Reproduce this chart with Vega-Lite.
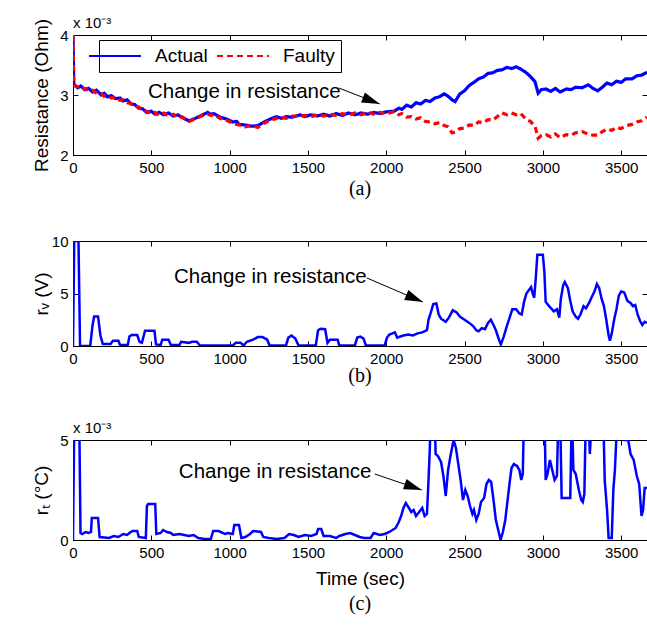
{
  "$schema": "https://vega.github.io/schema/vega-lite/v6.json",
  "background": "white",
  "padding": {"left": 31, "top": 15, "right": 0, "bottom": 0},
  "spacing": 33,
  "config": {
    "font": "Liberation Sans",
    "view": {"stroke": "#000000", "strokeWidth": 1},
    "axis": {
      "grid": false, "domainColor": "#000000", "tickColor": "#000000", "labelColor": "#000000", "titleColor": "#000000",
      "labelFont": "Liberation Sans", "titleFont": "Liberation Sans", "labelFontSize": 15, "titleFontSize": 19,
      "titleFontWeight": "normal", "tickSize": -5, "labelPadding": 10, "domainWidth": 1, "tickWidth": 1, "format": "d", "labelFlush": false
    }
  },
  "datasets": {
    "resistance": [
      {"t":0,"v":4.0,"series":"Actual"},{"t":5,"v":3.18,"series":"Actual"},{"t":30,"v":3.12,"series":"Actual"},{"t":50,"v":3.15,"series":"Actual"},{"t":75,"v":3.09,"series":"Actual"},{"t":100,"v":3.11,"series":"Actual"},{"t":125,"v":3.05,"series":"Actual"},{"t":150,"v":3.08,"series":"Actual"},{"t":180,"v":3.0,"series":"Actual"},{"t":200,"v":3.03,"series":"Actual"},{"t":220,"v":2.97,"series":"Actual"},{"t":245,"v":2.99,"series":"Actual"},{"t":270,"v":2.94,"series":"Actual"},{"t":300,"v":2.95,"series":"Actual"},{"t":320,"v":2.9,"series":"Actual"},{"t":345,"v":2.92,"series":"Actual"},{"t":370,"v":2.85,"series":"Actual"},{"t":395,"v":2.84,"series":"Actual"},{"t":420,"v":2.78,"series":"Actual"},{"t":445,"v":2.77,"series":"Actual"},{"t":470,"v":2.71,"series":"Actual"},{"t":500,"v":2.73,"series":"Actual"},{"t":525,"v":2.68,"series":"Actual"},{"t":550,"v":2.71,"series":"Actual"},{"t":580,"v":2.67,"series":"Actual"},{"t":610,"v":2.7,"series":"Actual"},{"t":640,"v":2.65,"series":"Actual"},{"t":670,"v":2.67,"series":"Actual"},{"t":700,"v":2.62,"series":"Actual"},{"t":740,"v":2.57,"series":"Actual"},{"t":780,"v":2.61,"series":"Actual"},{"t":820,"v":2.66,"series":"Actual"},{"t":860,"v":2.71,"series":"Actual"},{"t":880,"v":2.68,"series":"Actual"},{"t":900,"v":2.69,"series":"Actual"},{"t":940,"v":2.63,"series":"Actual"},{"t":980,"v":2.6,"series":"Actual"},{"t":1020,"v":2.55,"series":"Actual"},{"t":1045,"v":2.56,"series":"Actual"},{"t":1060,"v":2.51,"series":"Actual"},{"t":1100,"v":2.5,"series":"Actual"},{"t":1140,"v":2.48,"series":"Actual"},{"t":1180,"v":2.49,"series":"Actual"},{"t":1220,"v":2.55,"series":"Actual"},{"t":1260,"v":2.6,"series":"Actual"},{"t":1300,"v":2.64,"series":"Actual"},{"t":1330,"v":2.61,"series":"Actual"},{"t":1360,"v":2.64,"series":"Actual"},{"t":1400,"v":2.63,"series":"Actual"},{"t":1450,"v":2.67,"series":"Actual"},{"t":1480,"v":2.64,"series":"Actual"},{"t":1520,"v":2.67,"series":"Actual"},{"t":1560,"v":2.65,"series":"Actual"},{"t":1600,"v":2.68,"series":"Actual"},{"t":1640,"v":2.65,"series":"Actual"},{"t":1680,"v":2.69,"series":"Actual"},{"t":1720,"v":2.66,"series":"Actual"},{"t":1760,"v":2.7,"series":"Actual"},{"t":1800,"v":2.67,"series":"Actual"},{"t":1840,"v":2.7,"series":"Actual"},{"t":1880,"v":2.68,"series":"Actual"},{"t":1920,"v":2.71,"series":"Actual"},{"t":1960,"v":2.69,"series":"Actual"},{"t":2000,"v":2.72,"series":"Actual"},{"t":2050,"v":2.73,"series":"Actual"},{"t":2080,"v":2.78,"series":"Actual"},{"t":2100,"v":2.76,"series":"Actual"},{"t":2130,"v":2.83,"series":"Actual"},{"t":2160,"v":2.8,"series":"Actual"},{"t":2190,"v":2.87,"series":"Actual"},{"t":2220,"v":2.85,"series":"Actual"},{"t":2250,"v":2.91,"series":"Actual"},{"t":2280,"v":2.89,"series":"Actual"},{"t":2310,"v":2.95,"series":"Actual"},{"t":2340,"v":2.97,"series":"Actual"},{"t":2370,"v":3.02,"series":"Actual"},{"t":2395,"v":2.98,"series":"Actual"},{"t":2420,"v":2.92,"series":"Actual"},{"t":2440,"v":2.89,"series":"Actual"},{"t":2470,"v":3.02,"series":"Actual"},{"t":2500,"v":3.07,"series":"Actual"},{"t":2530,"v":3.16,"series":"Actual"},{"t":2560,"v":3.21,"series":"Actual"},{"t":2590,"v":3.27,"series":"Actual"},{"t":2620,"v":3.3,"series":"Actual"},{"t":2650,"v":3.36,"series":"Actual"},{"t":2680,"v":3.37,"series":"Actual"},{"t":2710,"v":3.41,"series":"Actual"},{"t":2740,"v":3.42,"series":"Actual"},{"t":2770,"v":3.46,"series":"Actual"},{"t":2800,"v":3.44,"series":"Actual"},{"t":2830,"v":3.47,"series":"Actual"},{"t":2860,"v":3.43,"series":"Actual"},{"t":2890,"v":3.38,"series":"Actual"},{"t":2920,"v":3.31,"series":"Actual"},{"t":2950,"v":3.22,"series":"Actual"},{"t":2970,"v":3.03,"series":"Actual"},{"t":2990,"v":3.09,"series":"Actual"},{"t":3020,"v":3.1,"series":"Actual"},{"t":3050,"v":3.06,"series":"Actual"},{"t":3080,"v":3.11,"series":"Actual"},{"t":3110,"v":3.05,"series":"Actual"},{"t":3150,"v":3.1,"series":"Actual"},{"t":3180,"v":3.09,"series":"Actual"},{"t":3210,"v":3.13,"series":"Actual"},{"t":3250,"v":3.12,"series":"Actual"},{"t":3290,"v":3.17,"series":"Actual"},{"t":3320,"v":3.11,"series":"Actual"},{"t":3350,"v":3.07,"series":"Actual"},{"t":3380,"v":3.13,"series":"Actual"},{"t":3410,"v":3.2,"series":"Actual"},{"t":3440,"v":3.17,"series":"Actual"},{"t":3470,"v":3.23,"series":"Actual"},{"t":3500,"v":3.21,"series":"Actual"},{"t":3530,"v":3.27,"series":"Actual"},{"t":3570,"v":3.27,"series":"Actual"},{"t":3600,"v":3.32,"series":"Actual"},{"t":3630,"v":3.33,"series":"Actual"},{"t":3665,"v":3.38,"series":"Actual"},
      {"t":0,"v":4.0,"series":"Faulty"},{"t":5,"v":3.16,"series":"Faulty"},{"t":30,"v":3.14,"series":"Faulty"},{"t":50,"v":3.1,"series":"Faulty"},{"t":75,"v":3.11,"series":"Faulty"},{"t":100,"v":3.07,"series":"Faulty"},{"t":125,"v":3.08,"series":"Faulty"},{"t":150,"v":3.03,"series":"Faulty"},{"t":180,"v":3.02,"series":"Faulty"},{"t":200,"v":2.98,"series":"Faulty"},{"t":220,"v":2.99,"series":"Faulty"},{"t":245,"v":2.95,"series":"Faulty"},{"t":270,"v":2.96,"series":"Faulty"},{"t":300,"v":2.91,"series":"Faulty"},{"t":320,"v":2.92,"series":"Faulty"},{"t":345,"v":2.87,"series":"Faulty"},{"t":370,"v":2.86,"series":"Faulty"},{"t":395,"v":2.81,"series":"Faulty"},{"t":420,"v":2.8,"series":"Faulty"},{"t":445,"v":2.74,"series":"Faulty"},{"t":470,"v":2.73,"series":"Faulty"},{"t":500,"v":2.69,"series":"Faulty"},{"t":525,"v":2.71,"series":"Faulty"},{"t":550,"v":2.66,"series":"Faulty"},{"t":580,"v":2.7,"series":"Faulty"},{"t":610,"v":2.65,"series":"Faulty"},{"t":640,"v":2.68,"series":"Faulty"},{"t":670,"v":2.63,"series":"Faulty"},{"t":700,"v":2.63,"series":"Faulty"},{"t":740,"v":2.56,"series":"Faulty"},{"t":780,"v":2.6,"series":"Faulty"},{"t":820,"v":2.65,"series":"Faulty"},{"t":860,"v":2.68,"series":"Faulty"},{"t":880,"v":2.66,"series":"Faulty"},{"t":900,"v":2.67,"series":"Faulty"},{"t":940,"v":2.61,"series":"Faulty"},{"t":980,"v":2.58,"series":"Faulty"},{"t":1020,"v":2.53,"series":"Faulty"},{"t":1045,"v":2.51,"series":"Faulty"},{"t":1060,"v":2.5,"series":"Faulty"},{"t":1100,"v":2.47,"series":"Faulty"},{"t":1140,"v":2.49,"series":"Faulty"},{"t":1180,"v":2.46,"series":"Faulty"},{"t":1220,"v":2.53,"series":"Faulty"},{"t":1260,"v":2.58,"series":"Faulty"},{"t":1300,"v":2.61,"series":"Faulty"},{"t":1330,"v":2.63,"series":"Faulty"},{"t":1360,"v":2.61,"series":"Faulty"},{"t":1400,"v":2.65,"series":"Faulty"},{"t":1450,"v":2.64,"series":"Faulty"},{"t":1480,"v":2.66,"series":"Faulty"},{"t":1520,"v":2.64,"series":"Faulty"},{"t":1560,"v":2.67,"series":"Faulty"},{"t":1600,"v":2.65,"series":"Faulty"},{"t":1640,"v":2.68,"series":"Faulty"},{"t":1680,"v":2.66,"series":"Faulty"},{"t":1720,"v":2.69,"series":"Faulty"},{"t":1760,"v":2.67,"series":"Faulty"},{"t":1800,"v":2.7,"series":"Faulty"},{"t":1840,"v":2.67,"series":"Faulty"},{"t":1880,"v":2.71,"series":"Faulty"},{"t":1920,"v":2.68,"series":"Faulty"},{"t":1960,"v":2.71,"series":"Faulty"},{"t":2000,"v":2.69,"series":"Faulty"},{"t":2050,"v":2.72,"series":"Faulty"},{"t":2080,"v":2.67,"series":"Faulty"},{"t":2100,"v":2.69,"series":"Faulty"},{"t":2130,"v":2.63,"series":"Faulty"},{"t":2160,"v":2.64,"series":"Faulty"},{"t":2190,"v":2.6,"series":"Faulty"},{"t":2220,"v":2.62,"series":"Faulty"},{"t":2250,"v":2.56,"series":"Faulty"},{"t":2280,"v":2.55,"series":"Faulty"},{"t":2310,"v":2.52,"series":"Faulty"},{"t":2340,"v":2.54,"series":"Faulty"},{"t":2370,"v":2.49,"series":"Faulty"},{"t":2395,"v":2.47,"series":"Faulty"},{"t":2420,"v":2.37,"series":"Faulty"},{"t":2440,"v":2.38,"series":"Faulty"},{"t":2470,"v":2.44,"series":"Faulty"},{"t":2500,"v":2.45,"series":"Faulty"},{"t":2530,"v":2.5,"series":"Faulty"},{"t":2560,"v":2.49,"series":"Faulty"},{"t":2590,"v":2.55,"series":"Faulty"},{"t":2620,"v":2.54,"series":"Faulty"},{"t":2650,"v":2.59,"series":"Faulty"},{"t":2680,"v":2.58,"series":"Faulty"},{"t":2710,"v":2.64,"series":"Faulty"},{"t":2740,"v":2.7,"series":"Faulty"},{"t":2770,"v":2.67,"series":"Faulty"},{"t":2800,"v":2.7,"series":"Faulty"},{"t":2830,"v":2.67,"series":"Faulty"},{"t":2860,"v":2.69,"series":"Faulty"},{"t":2890,"v":2.6,"series":"Faulty"},{"t":2920,"v":2.56,"series":"Faulty"},{"t":2950,"v":2.48,"series":"Faulty"},{"t":2970,"v":2.28,"series":"Faulty"},{"t":2990,"v":2.32,"series":"Faulty"},{"t":3020,"v":2.34,"series":"Faulty"},{"t":3050,"v":2.3,"series":"Faulty"},{"t":3080,"v":2.35,"series":"Faulty"},{"t":3110,"v":2.29,"series":"Faulty"},{"t":3150,"v":2.34,"series":"Faulty"},{"t":3180,"v":2.33,"series":"Faulty"},{"t":3210,"v":2.37,"series":"Faulty"},{"t":3250,"v":2.39,"series":"Faulty"},{"t":3290,"v":2.35,"series":"Faulty"},{"t":3320,"v":2.33,"series":"Faulty"},{"t":3350,"v":2.33,"series":"Faulty"},{"t":3380,"v":2.39,"series":"Faulty"},{"t":3410,"v":2.43,"series":"Faulty"},{"t":3440,"v":2.41,"series":"Faulty"},{"t":3470,"v":2.46,"series":"Faulty"},{"t":3500,"v":2.44,"series":"Faulty"},{"t":3530,"v":2.49,"series":"Faulty"},{"t":3570,"v":2.51,"series":"Faulty"},{"t":3600,"v":2.55,"series":"Faulty"},{"t":3630,"v":2.57,"series":"Faulty"},{"t":3665,"v":2.63,"series":"Faulty"}
    ],
    "rv": [
      {"t":0,"v":0},{"t":8,"v":10},{"t":35,"v":10},{"t":45,"v":0},{"t":110,"v":0},{"t":125,"v":2.0},{"t":135,"v":2.8},{"t":160,"v":2.8},{"t":175,"v":1.0},{"t":190,"v":0.2},{"t":240,"v":0.2},{"t":255,"v":0.5},{"t":290,"v":0.5},{"t":300,"v":0.1},{"t":350,"v":0.1},{"t":360,"v":0.9},{"t":375,"v":1.05},{"t":410,"v":1.05},{"t":425,"v":0.4},{"t":440,"v":0.3},{"t":460,"v":1.45},{"t":520,"v":1.45},{"t":530,"v":0.15},{"t":560,"v":0.1},{"t":570,"v":0.6},{"t":610,"v":0.6},{"t":625,"v":0.1},{"t":680,"v":0.1},{"t":690,"v":0.4},{"t":740,"v":0.3},{"t":760,"v":0.4},{"t":790,"v":0.4},{"t":810,"v":0.05},{"t":1020,"v":0.05},{"t":1040,"v":0.3},{"t":1070,"v":0.3},{"t":1090,"v":0.05},{"t":1110,"v":0.4},{"t":1150,"v":0.6},{"t":1180,"v":0.85},{"t":1210,"v":0.85},{"t":1240,"v":0.6},{"t":1255,"v":0.05},{"t":1360,"v":0.05},{"t":1375,"v":0.8},{"t":1395,"v":1.0},{"t":1420,"v":0.7},{"t":1440,"v":0.05},{"t":1550,"v":0.05},{"t":1565,"v":1.5},{"t":1580,"v":1.65},{"t":1610,"v":1.6},{"t":1625,"v":0.3},{"t":1640,"v":0.6},{"t":1690,"v":0.6},{"t":1700,"v":0.05},{"t":1800,"v":0.05},{"t":1815,"v":0.8},{"t":1835,"v":0.9},{"t":1855,"v":0.7},{"t":1870,"v":0.05},{"t":1990,"v":0.05},{"t":2005,"v":0.8},{"t":2020,"v":1.1},{"t":2040,"v":1.2},{"t":2055,"v":1.3},{"t":2070,"v":0.8},{"t":2090,"v":0.9},{"t":2110,"v":1.0},{"t":2140,"v":1.1},{"t":2170,"v":1.0},{"t":2200,"v":1.2},{"t":2230,"v":1.3},{"t":2260,"v":1.5},{"t":2270,"v":2.5},{"t":2285,"v":3.2},{"t":2300,"v":4.0},{"t":2320,"v":4.05},{"t":2335,"v":3.0},{"t":2350,"v":2.6},{"t":2380,"v":2.3},{"t":2400,"v":2.7},{"t":2425,"v":3.4},{"t":2450,"v":3.2},{"t":2470,"v":2.8},{"t":2500,"v":2.5},{"t":2530,"v":2.2},{"t":2555,"v":1.9},{"t":2575,"v":1.5},{"t":2590,"v":1.4},{"t":2610,"v":1.7},{"t":2630,"v":1.6},{"t":2650,"v":2.2},{"t":2668,"v":2.5},{"t":2685,"v":2.0},{"t":2700,"v":1.5},{"t":2720,"v":0.6},{"t":2732,"v":0.15},{"t":2750,"v":0.9},{"t":2770,"v":1.9},{"t":2790,"v":2.8},{"t":2805,"v":3.5},{"t":2830,"v":3.5},{"t":2850,"v":3.1},{"t":2865,"v":3.0},{"t":2880,"v":4.2},{"t":2895,"v":5.0},{"t":2910,"v":5.3},{"t":2925,"v":5.6},{"t":2935,"v":5.0},{"t":2945,"v":4.6},{"t":2955,"v":6.5},{"t":2965,"v":8.7},{"t":3000,"v":8.7},{"t":3010,"v":7.0},{"t":3018,"v":4.2},{"t":3040,"v":3.8},{"t":3070,"v":3.3},{"t":3090,"v":3.5},{"t":3105,"v":2.7},{"t":3115,"v":4.5},{"t":3130,"v":5.8},{"t":3140,"v":6.1},{"t":3160,"v":5.5},{"t":3175,"v":4.3},{"t":3190,"v":3.3},{"t":3210,"v":2.8},{"t":3225,"v":2.6},{"t":3240,"v":3.0},{"t":3260,"v":3.8},{"t":3275,"v":3.6},{"t":3295,"v":4.1},{"t":3310,"v":4.6},{"t":3330,"v":5.2},{"t":3345,"v":5.9},{"t":3360,"v":5.5},{"t":3375,"v":4.5},{"t":3390,"v":3.8},{"t":3405,"v":2.5},{"t":3420,"v":1.0},{"t":3428,"v":0.5},{"t":3440,"v":1.2},{"t":3455,"v":2.5},{"t":3470,"v":3.5},{"t":3485,"v":4.8},{"t":3500,"v":5.2},{"t":3520,"v":5.1},{"t":3540,"v":4.3},{"t":3560,"v":4.1},{"t":3575,"v":3.8},{"t":3590,"v":3.9},{"t":3605,"v":3.0},{"t":3620,"v":2.4},{"t":3635,"v":2.0},{"t":3650,"v":2.3},{"t":3665,"v":2.2}
    ],
    "rt": [
      {"t":0,"v":0},{"t":8,"v":6},{"t":40,"v":6},{"t":48,"v":0.35},{"t":60,"v":0.3},{"t":80,"v":0.4},{"t":100,"v":0.35},{"t":115,"v":0.4},{"t":120,"v":1.1},{"t":160,"v":1.1},{"t":170,"v":0.15},{"t":230,"v":0.1},{"t":260,"v":0.2},{"t":290,"v":0.15},{"t":320,"v":0.3},{"t":345,"v":0.25},{"t":360,"v":0.35},{"t":380,"v":0.45},{"t":410,"v":0.45},{"t":420,"v":0.15},{"t":465,"v":0.1},{"t":472,"v":1.7},{"t":480,"v":1.8},{"t":525,"v":1.8},{"t":532,"v":0.3},{"t":560,"v":0.35},{"t":575,"v":0.5},{"t":600,"v":0.4},{"t":625,"v":0.35},{"t":640,"v":0.25},{"t":680,"v":0.3},{"t":710,"v":0.25},{"t":740,"v":0.2},{"t":770,"v":0.25},{"t":800,"v":0.1},{"t":840,"v":0.05},{"t":880,"v":0.05},{"t":895,"v":0.45},{"t":930,"v":0.45},{"t":970,"v":0.3},{"t":990,"v":0.35},{"t":1020,"v":0.3},{"t":1030,"v":0.75},{"t":1060,"v":0.75},{"t":1075,"v":0.1},{"t":1100,"v":0.15},{"t":1130,"v":0.3},{"t":1150,"v":0.45},{"t":1200,"v":0.4},{"t":1215,"v":0.15},{"t":1250,"v":0.1},{"t":1300,"v":0.05},{"t":1350,"v":0.1},{"t":1380,"v":0.3},{"t":1410,"v":0.25},{"t":1440,"v":0.15},{"t":1480,"v":0.25},{"t":1520,"v":0.2},{"t":1555,"v":0.3},{"t":1565,"v":0.55},{"t":1585,"v":0.55},{"t":1600,"v":0.2},{"t":1640,"v":0.2},{"t":1680,"v":0.1},{"t":1700,"v":0.2},{"t":1740,"v":0.3},{"t":1770,"v":0.35},{"t":1800,"v":0.25},{"t":1830,"v":0.15},{"t":1860,"v":0.1},{"t":1900,"v":0.1},{"t":1920,"v":0.35},{"t":1960,"v":0.25},{"t":1990,"v":0.3},{"t":2020,"v":0.4},{"t":2040,"v":0.5},{"t":2060,"v":0.6},{"t":2080,"v":0.9},{"t":2095,"v":1.2},{"t":2110,"v":1.6},{"t":2125,"v":1.85},{"t":2145,"v":1.6},{"t":2160,"v":1.4},{"t":2175,"v":1.5},{"t":2190,"v":1.2},{"t":2210,"v":1.4},{"t":2230,"v":1.6},{"t":2245,"v":1.2},{"t":2260,"v":1.3},{"t":2270,"v":3.0},{"t":2278,"v":4.5},{"t":2285,"v":6.5},{"t":2310,"v":6.5},{"t":2315,"v":4.3},{"t":2330,"v":4.2},{"t":2350,"v":3.9},{"t":2365,"v":3.2},{"t":2380,"v":2.2},{"t":2395,"v":3.5},{"t":2410,"v":4.2},{"t":2430,"v":5.0},{"t":2445,"v":4.6},{"t":2460,"v":3.8},{"t":2475,"v":3.0},{"t":2490,"v":2.0},{"t":2505,"v":2.5},{"t":2520,"v":2.2},{"t":2535,"v":1.7},{"t":2550,"v":1.3},{"t":2560,"v":1.5},{"t":2575,"v":1.0},{"t":2590,"v":1.3},{"t":2605,"v":1.9},{"t":2625,"v":2.1},{"t":2640,"v":2.8},{"t":2655,"v":3.0},{"t":2670,"v":2.9},{"t":2685,"v":2.0},{"t":2700,"v":1.0},{"t":2715,"v":0.5},{"t":2730,"v":0.0},{"t":2745,"v":0.4},{"t":2760,"v":1.0},{"t":2775,"v":2.0},{"t":2790,"v":3.0},{"t":2800,"v":3.6},{"t":2815,"v":3.8},{"t":2835,"v":3.7},{"t":2850,"v":3.5},{"t":2862,"v":3.0},{"t":2872,"v":3.3},{"t":2880,"v":6.5},{"t":3010,"v":6.5},{"t":3018,"v":3.0},{"t":3030,"v":3.3},{"t":3045,"v":4.0},{"t":3060,"v":3.5},{"t":3075,"v":3.0},{"t":3090,"v":3.2},{"t":3100,"v":6.5},{"t":3110,"v":6.5},{"t":3120,"v":2.1},{"t":3175,"v":2.1},{"t":3185,"v":6.5},{"t":3195,"v":3.5},{"t":3210,"v":3.3},{"t":3230,"v":2.5},{"t":3245,"v":2.0},{"t":3255,"v":1.9},{"t":3265,"v":2.3},{"t":3275,"v":6.5},{"t":3290,"v":6.5},{"t":3300,"v":4.3},{"t":3315,"v":6.5},{"t":3385,"v":6.5},{"t":3395,"v":3.0},{"t":3410,"v":1.5},{"t":3420,"v":0.1},{"t":3440,"v":0.1},{"t":3450,"v":2.5},{"t":3460,"v":3.5},{"t":3470,"v":5.2},{"t":3490,"v":6.5},{"t":3520,"v":5.0},{"t":3545,"v":5.0},{"t":3560,"v":4.3},{"t":3580,"v":4.0},{"t":3600,"v":3.2},{"t":3615,"v":2.8},{"t":3630,"v":1.2},{"t":3640,"v":1.5},{"t":3650,"v":2.6},{"t":3665,"v":2.6}
    ],
    "noteA": [{"tx":479,"ty":3.05,"label":"Change in resistance","x1":1697,"y1":3.117,"x2":1959,"y2":2.85,"ang":21}],
    "noteB": [{"tx":645,"ty":6.57,"label":"Change in resistance","x1":1876,"y1":6.48,"x2":2234,"y2":4.19,"ang":23}],
    "noteC": [{"tx":676,"ty":3.4,"label":"Change in resistance","x1":1927,"y1":3.3,"x2":2227,"y2":2.5,"ang":19}]
  },
  "vconcat": [
    {
      "width": 574, "height": 120,
      "title": {"text": "(a)", "orient": "bottom", "font": "Liberation Serif", "fontSize": 20, "fontWeight": "normal", "color": "#000000", "offset": 4, "anchor": "middle"},
      "resolve": {"axis": {"x": "independent", "y": "independent"}},
      "layer": [
        {
          "data": {"name": "resistance"},
          "mark": {"type": "line", "strokeWidth": 3.2, "clip": true},
          "encoding": {
            "x": {"field": "t", "type": "quantitative", "scale": {"domain": [0, 3665], "nice": false}, "axis": {"values": [0,500,1000,1500,2000,2500,3000,3500], "title": null}},
            "y": {"field": "v", "type": "quantitative", "scale": {"domain": [2, 4], "nice": false}, "axis": {"values": [2,3,4], "title": "Resistance (Ohm)", "minExtent": 18, "maxExtent": 18, "titlePadding": 4}},
            "color": {"field": "series", "type": "nominal", "scale": {"domain": ["Actual", "Faulty"], "range": ["#0000ff", "#ff0000"]},
              "legend": {"orient": "none", "legendX": 26, "legendY": 5, "direction": "horizontal", "title": null, "symbolType": "M-3,0H3", "symbolSize": 300, "symbolStrokeWidth": 2.2, "labelFontSize": 19, "labelFont": "Liberation Sans", "labelColor": "#000000", "strokeColor": "#000000", "fillColor": "#ffffff", "padding": 6, "columnPadding": 4, "labelOffset": 30}},
            "strokeDash": {"field": "series", "type": "nominal", "scale": {"domain": ["Actual", "Faulty"], "range": [[1, 0], [6, 4]]}}
          }
        },
        {
          "data": {"name": "noteA"},
          "mark": {"type": "text", "align": "left", "baseline": "middle", "fontSize": 20.5, "font": "Liberation Sans", "color": "#000000"},
          "encoding": {
            "x": {"field": "tx", "type": "quantitative", "axis": {"orient": "top", "labels": false, "title": null, "values": [0,500,1000,1500,2000,2500,3000,3500], "domain": false}},
            "y": {"field": "ty", "type": "quantitative", "axis": {"orient": "right", "labels": false, "title": null, "values": [2,3,4], "domain": false}},
            "text": {"field": "label"}
          }
        },
        {
          "data": {"name": "noteA"},
          "mark": {"type": "rule", "color": "#000000", "strokeWidth": 1},
          "encoding": {
            "x": {"field": "x1", "type": "quantitative", "axis": null}, "y": {"field": "y1", "type": "quantitative", "axis": null},
            "x2": {"field": "x2"}, "y2": {"field": "y2"}
          }
        },
        {
          "data": {"name": "noteA"},
          "mark": {"type": "point", "shape": "M0,0L-2,-0.6L-2,0.6Z", "filled": true, "color": "#000000", "opacity": 1, "size": 324},
          "encoding": {
            "x": {"field": "x2", "type": "quantitative", "axis": null}, "y": {"field": "y2", "type": "quantitative", "axis": null},
            "angle": {"field": "ang", "type": "quantitative", "scale": null}
          }
        },
        {
          "data": {"values": [{"label": "x 10⁻³"}]},
          "mark": {"type": "text", "align": "left", "baseline": "bottom", "fontSize": 15, "font": "Liberation Sans", "color": "#000000", "dy": -4},
          "encoding": {
            "x": {"datum": 0, "axis": null}, "y": {"datum": 4, "axis": null}, "text": {"field": "label"}
          }
        }
      ]
    },
    {
      "width": 574, "height": 105,
      "title": {"text": "(b)", "orient": "bottom", "font": "Liberation Serif", "fontSize": 20, "fontWeight": "normal", "color": "#000000", "offset": 0, "anchor": "middle"},
      "resolve": {"axis": {"x": "independent", "y": "independent"}},
      "layer": [
        {
          "data": {"name": "rv"},
          "mark": {"type": "line", "strokeWidth": 2.5, "color": "#0000ff", "clip": true},
          "encoding": {
            "x": {"field": "t", "type": "quantitative", "scale": {"domain": [0, 3665], "nice": false}, "axis": {"values": [0,500,1000,1500,2000,2500,3000,3500], "title": null}},
            "y": {"field": "v", "type": "quantitative", "scale": {"domain": [0, 10], "nice": false}, "axis": {"values": [0,5,10], "title": "rᵥ (V)", "minExtent": 18, "maxExtent": 18, "titlePadding": 4}}
          }
        },
        {
          "mark": {"type": "rule", "color": "#ff0000", "strokeWidth": 2.5, "strokeDash": [9, 5]},
          "encoding": {"y": {"datum": 3.2, "axis": null}}
        },
        {
          "data": {"name": "noteB"},
          "mark": {"type": "text", "align": "left", "baseline": "middle", "fontSize": 20.5, "font": "Liberation Sans", "color": "#000000"},
          "encoding": {
            "x": {"field": "tx", "type": "quantitative", "axis": {"orient": "top", "labels": false, "title": null, "values": [0,500,1000,1500,2000,2500,3000,3500], "domain": false}},
            "y": {"field": "ty", "type": "quantitative", "axis": {"orient": "right", "labels": false, "title": null, "values": [0,5,10], "domain": false}},
            "text": {"field": "label"}
          }
        },
        {
          "data": {"name": "noteB"},
          "mark": {"type": "rule", "color": "#000000", "strokeWidth": 1},
          "encoding": {
            "x": {"field": "x1", "type": "quantitative", "axis": null}, "y": {"field": "y1", "type": "quantitative", "axis": null},
            "x2": {"field": "x2"}, "y2": {"field": "y2"}
          }
        },
        {
          "data": {"name": "noteB"},
          "mark": {"type": "point", "shape": "M0,0L-2,-0.6L-2,0.6Z", "filled": true, "color": "#000000", "opacity": 1, "size": 324},
          "encoding": {
            "x": {"field": "x2", "type": "quantitative", "axis": null}, "y": {"field": "y2", "type": "quantitative", "axis": null},
            "angle": {"field": "ang", "type": "quantitative", "scale": null}
          }
        }
      ]
    },
    {
      "width": 574, "height": 100,
      "title": {"text": "(c)", "orient": "bottom", "font": "Liberation Serif", "fontSize": 20, "fontWeight": "normal", "color": "#000000", "offset": 6, "anchor": "middle"},
      "resolve": {"axis": {"x": "independent", "y": "independent"}},
      "layer": [
        {
          "data": {"name": "rt"},
          "mark": {"type": "line", "strokeWidth": 2.5, "color": "#0000ff", "clip": true},
          "encoding": {
            "x": {"field": "t", "type": "quantitative", "scale": {"domain": [0, 3665], "nice": false}, "axis": {"values": [0,500,1000,1500,2000,2500,3000,3500], "title": "Time (sec)", "titlePadding": 9}},
            "y": {"field": "v", "type": "quantitative", "scale": {"domain": [0, 5], "nice": false}, "axis": {"values": [0,5], "title": "rₜ (°C)", "minExtent": 18, "maxExtent": 18, "titlePadding": 4}}
          }
        },
        {
          "mark": {"type": "rule", "color": "#ff0000", "strokeWidth": 2.5, "strokeDash": [9, 5]},
          "encoding": {"y": {"datum": 1.95, "axis": null}}
        },
        {
          "data": {"name": "noteC"},
          "mark": {"type": "text", "align": "left", "baseline": "middle", "fontSize": 20.5, "font": "Liberation Sans", "color": "#000000"},
          "encoding": {
            "x": {"field": "tx", "type": "quantitative", "axis": {"orient": "top", "labels": false, "title": null, "values": [0,500,1000,1500,2000,2500,3000,3500], "domain": false}},
            "y": {"field": "ty", "type": "quantitative", "axis": {"orient": "right", "labels": false, "title": null, "values": [0,5], "domain": false}},
            "text": {"field": "label"}
          }
        },
        {
          "data": {"name": "noteC"},
          "mark": {"type": "rule", "color": "#000000", "strokeWidth": 1},
          "encoding": {
            "x": {"field": "x1", "type": "quantitative", "axis": null}, "y": {"field": "y1", "type": "quantitative", "axis": null},
            "x2": {"field": "x2"}, "y2": {"field": "y2"}
          }
        },
        {
          "data": {"name": "noteC"},
          "mark": {"type": "point", "shape": "M0,0L-2,-0.6L-2,0.6Z", "filled": true, "color": "#000000", "opacity": 1, "size": 324},
          "encoding": {
            "x": {"field": "x2", "type": "quantitative", "axis": null}, "y": {"field": "y2", "type": "quantitative", "axis": null},
            "angle": {"field": "ang", "type": "quantitative", "scale": null}
          }
        },
        {
          "data": {"values": [{"label": "x 10⁻³"}]},
          "mark": {"type": "text", "align": "left", "baseline": "bottom", "fontSize": 15, "font": "Liberation Sans", "color": "#000000", "dy": -4},
          "encoding": {
            "x": {"datum": 0, "axis": null}, "y": {"datum": 5, "axis": null}, "text": {"field": "label"}
          }
        }
      ]
    }
  ]
}
